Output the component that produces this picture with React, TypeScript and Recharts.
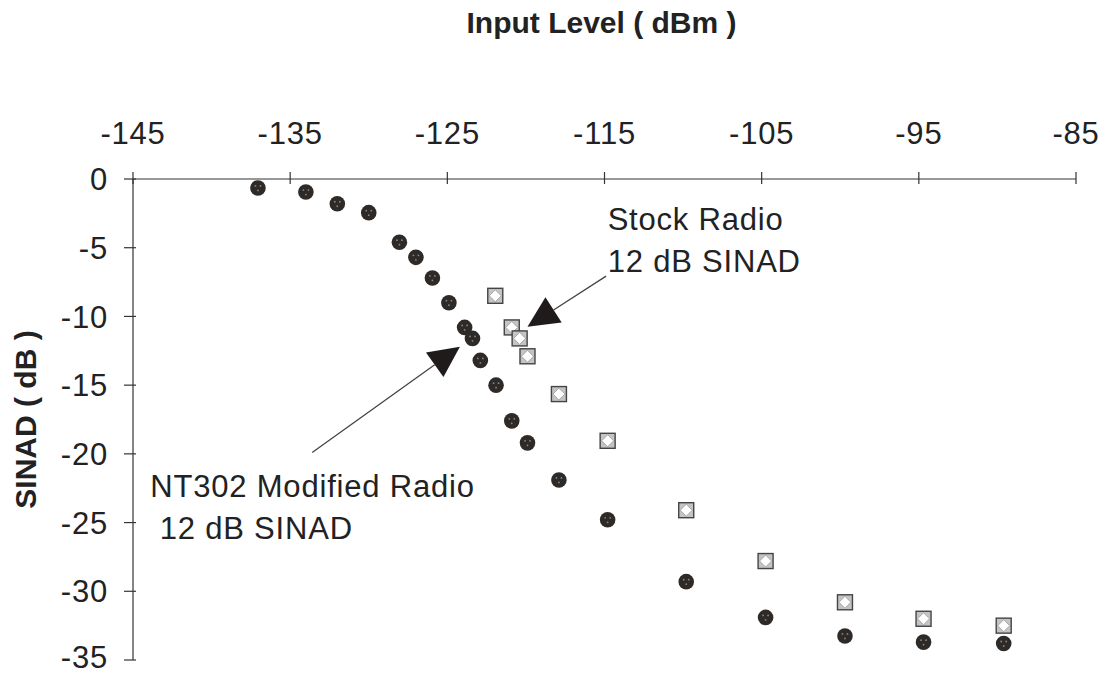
import { ScatterChart, Scatter, XAxis, YAxis, ReferenceLine, ReferenceDot } from 'recharts'

// Input level (dBm) and SINAD (dB)
const modifiedX = [-137.05, -134, -132, -130, -128.05, -127, -125.95, -124.9, -123.9, -123.4, -122.9, -121.9, -120.9, -119.9, -117.9, -114.8, -109.8, -104.75, -99.7, -94.7, -89.6]
const modifiedY = [-0.65, -0.95, -1.8, -2.45, -4.6, -5.7, -7.2, -9.0, -10.8, -11.6, -13.2, -15.0, -17.6, -19.2, -21.9, -24.8, -29.3, -31.9, -33.25, -33.7, -33.8]

const stockX = [-121.95, -120.9, -120.4, -119.9, -117.9, -114.8, -109.8, -104.75, -99.7, -94.7, -89.6]
const stockY = [-8.5, -10.8, -11.6, -12.9, -15.65, -19.05, -24.1, -27.8, -30.8, -32.0, -32.5]

const xTicks = [-145, -135, -125, -115, -105, -95, -85]
const yTicks = [0, -5, -10, -15, -20, -25, -30, -35]

// annotation anchors in data units
const stockLabel = { x: -114.8, y: -3.68, lines: ['Stock Radio', '12 dB SINAD'] }
const modifiedLabel = { x: -143.9, y: -23.16, lines: ['NT302 Modified Radio', ' 12 dB SINAD'] }
const stockArrow = [{ x: -114.9, y: -7.07 }, { x: -119.9, y: -10.75 }]
const modifiedArrow = [{ x: -133.6, y: -19.9 }, { x: -124.2, y: -12.2 }]

const modifiedData = modifiedX.map((x, i) => ({ x, y: modifiedY[i] }))
const stockData = stockX.map((x, i) => ({ x, y: stockY[i] }))

const FONT = '"Liberation Sans", Arial, Helvetica, sans-serif'
const INK = '#222'
const AXIS = '#333'
const TEXT_SIZE = 31
const TRACK = 0.8

function XTick(props: any) {
    const { x, y, payload } = props
    const axisY = y + 35
    return (
        <g>
            <line x1={x} y1={axisY - 7} x2={x} y2={axisY + 5} stroke={AXIS} strokeWidth={1.2} />
            <text x={x} y={y} textAnchor="middle" fontSize={TEXT_SIZE} letterSpacing={TRACK} fontFamily={FONT} fill={INK}>
                {payload.value}
            </text>
        </g>
    )
}

function YTick(props: any) {
    const { x, y, payload } = props
    const axisX = x + 26
    // lowest label nudged up a little so it stays inside the frame
    const lift = payload.value === yTicks[yTicks.length - 1] ? 3 : 0
    return (
        <g>
            <line x1={axisX - 9} y1={y} x2={axisX + 3} y2={y} stroke={AXIS} strokeWidth={1.2} />
            <text x={x + 1} y={y - lift} dy="0.36em" textAnchor="end" fontSize={TEXT_SIZE} letterSpacing={TRACK} fontFamily={FONT} fill={INK}>
                {payload.value}
            </text>
        </g>
    )
}

function ModifiedDot(props: any) {
    const { cx, cy } = props
    return (
        <g>
            <circle cx={cx} cy={cy} r={7.8} fill="#2e2a28" />
            <circle cx={cx - 2.5} cy={cy - 2} r={0.9} fill="#8a8580" />
            <circle cx={cx + 2.5} cy={cy - 2} r={0.9} fill="#8a8580" />
            <circle cx={cx} cy={cy + 2.5} r={0.9} fill="#8a8580" />
        </g>
    )
}

function StockSquare(props: any) {
    const { cx, cy } = props
    const h = 7.5
    const d = 6
    return (
        <g>
            <rect x={cx - h} y={cy - h} width={h * 2} height={h * 2} fill="#c4c4c4" stroke="#444" strokeWidth={1.4} />
            <polygon points={`${cx},${cy - d} ${cx + d},${cy} ${cx},${cy + d} ${cx - d},${cy}`} fill="#fff" stroke="#999" strokeWidth={0.8} />
        </g>
    )
}

function Arrow(props: any) {
    const { x1, y1, x2, y2 } = props
    const dx = x2 - x1
    const dy = y2 - y1
    const len = Math.sqrt(dx * dx + dy * dy)
    const ux = dx / len
    const uy = dy / len
    const headLen = 31
    const halfW = 15
    const bx = x2 - ux * headLen
    const by = y2 - uy * headLen
    const pts = `${x2},${y2} ${bx - uy * halfW},${by + ux * halfW} ${bx + uy * halfW},${by - ux * halfW}`
    return (
        <g>
            <line x1={x1} y1={y1} x2={bx} y2={by} stroke="#444" strokeWidth={1.3} />
            <polygon points={pts} fill="#1e1b1a" />
        </g>
    )
}

function AnnotationText(lines: string[]) {
    return (props: any) => (
        <text x={props.cx} y={props.cy} fontSize={TEXT_SIZE} letterSpacing={TRACK} fontFamily={FONT} fill={INK} style={{ whiteSpace: 'pre' }}>
            {lines.map((l, i) => (
                <tspan key={i} x={props.cx} dy={i === 0 ? 0 : 42}>
                    {l}
                </tspan>
            ))}
        </text>
    )
}

export default function App() {
    return (
        <div style={{ position: 'absolute', left: 0, top: 0, width: 1105, height: 677, background: '#fff' }}>
            <ScatterChart width={1105} height={677} margin={{ top: 0, right: 29, bottom: 17, left: 0 }}>
                <XAxis
                    type="number"
                    dataKey="x"
                    orientation="top"
                    domain={[-145, -85]}
                    ticks={xTicks}
                    height={179}
                    tickSize={6}
                    tickMargin={29}
                    tickLine={false}
                    tick={<XTick />}
                    axisLine={{ stroke: AXIS, strokeWidth: 1.2 }}
                    label={{
                        content: (p: any) => (
                            <text
                                x={p.viewBox.x + p.viewBox.width / 2 - 3}
                                y={p.viewBox.y + 33}
                                textAnchor="middle"
                                fontSize={30}
                                fontWeight="bold"
                                fontFamily={FONT}
                                fill={INK}
                            >
                                Input Level ( dBm )
                            </text>
                        ),
                    }}
                />
                <YAxis
                    type="number"
                    dataKey="y"
                    domain={[-35, 0]}
                    ticks={yTicks}
                    width={133}
                    tickSize={6}
                    tickMargin={20}
                    tickLine={false}
                    tick={<YTick />}
                    axisLine={{ stroke: AXIS, strokeWidth: 1.2 }}
                    label={{
                        content: (p: any) => {
                            const cx = p.viewBox.x + 25
                            const cy = p.viewBox.y + p.viewBox.height / 2
                            return (
                                <text
                                    x={cx}
                                    y={cy}
                                    dy="0.36em"
                                    textAnchor="middle"
                                    transform={`rotate(-90 ${cx} ${cy})`}
                                    fontSize={30}
                                    fontWeight="bold"
                                    fontFamily={FONT}
                                    fill={INK}
                                >
                                    SINAD ( dB )
                                </text>
                            )
                        },
                    }}
                />
                <Scatter name="NT302 Modified Radio" data={modifiedData} shape={<ModifiedDot />} isAnimationActive={false} />
                <Scatter name="Stock Radio" data={stockData} shape={<StockSquare />} isAnimationActive={false} />
                <ReferenceLine segment={stockArrow} shape={Arrow} />
                <ReferenceLine segment={modifiedArrow} shape={Arrow} />
                <ReferenceDot x={stockLabel.x} y={stockLabel.y} r={0} shape={AnnotationText(stockLabel.lines)} />
                <ReferenceDot x={modifiedLabel.x} y={modifiedLabel.y} r={0} shape={AnnotationText(modifiedLabel.lines)} />
            </ScatterChart>
        </div>
    )
}
